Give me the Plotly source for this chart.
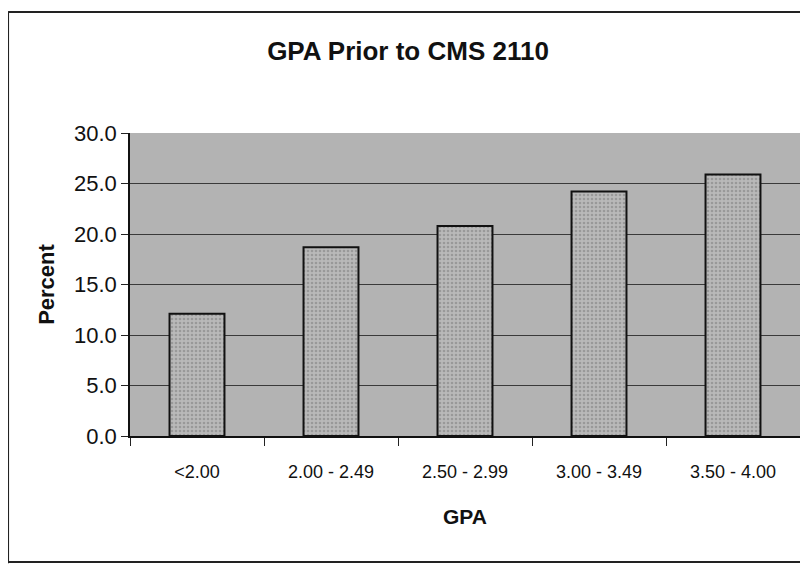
import plotly.graph_objects as go

gpa_bands = ["<2.00", "2.00 - 2.49", "2.50 - 2.99", "3.00 - 3.49", "3.50 - 4.00"]
percent = [12.1, 18.7, 20.8, 24.2, 25.9]

FONT = "Arial, Liberation Sans, sans-serif"

fig = go.Figure()

fig.add_trace(go.Bar(
    x=gpa_bands,
    y=percent,
    width=0.41,
    marker=dict(
        color="#a9a9a9",
        line=dict(color="#111111", width=2),
        pattern=dict(shape=".", fgcolor="#7a7a7a", bgcolor="#b9b9b9", size=4, solidity=0.35),
    ),
    hovertemplate="<b>GPA:</b> %{x}<br><b>Percent:</b> %{y:.1f}<extra></extra>",
))

# chart frame (top, left, bottom edges of the scanned chart)
frame = dict(type="line", xref="paper", yref="paper", line=dict(color="#222222", width=2))
fig.add_shape(**frame, x0=-0.182, x1=1.02, y0=1.399, y1=1.399)
fig.add_shape(**frame, x0=-0.182, x1=-0.182, y0=1.399, y1=-0.42)
fig.add_shape(**frame, x0=-0.182, x1=1.02, y0=-0.416, y1=-0.416)

fig.update_layout(
    width=800,
    height=556,
    margin=dict(l=122, r=8, t=125, b=128),
    paper_bgcolor="white",
    plot_bgcolor="#b3b3b3",
    showlegend=False,
    bargap=0.59,
    font=dict(family=FONT, color="#111111"),
    title=dict(
        text="<b>GPA Prior to CMS 2110</b>",
        x=0.5, xref="container", xanchor="center",
        y=0.923, yref="container", yanchor="middle",
        font=dict(size=26, family=FONT, color="#111111"),
    ),
    xaxis=dict(
        title=dict(text="<b>GPA</b>", font=dict(size=21), standoff=29),
        type="category",
        tickfont=dict(size=18),
        ticks="outside",
        tickson="boundaries",
        ticklen=8,
        tickcolor="#222222",
        ticklabelstandoff=18,
        showline=True,
        linecolor="#111111",
        linewidth=2,
        showgrid=False,
    ),
    yaxis=dict(
        title=dict(text="<b>Percent</b>", font=dict(size=22), standoff=13),
        range=[0, 30],
        dtick=5,
        tickformat=".1f",
        tickfont=dict(size=22),
        ticks="outside",
        ticklen=7,
        tickcolor="#222222",
        showline=True,
        linecolor="#111111",
        linewidth=1.5,
        showgrid=True,
        gridcolor="#3a3a3a",
        gridwidth=1,
        zeroline=False,
    ),
)

fig.write_html("out.html")
